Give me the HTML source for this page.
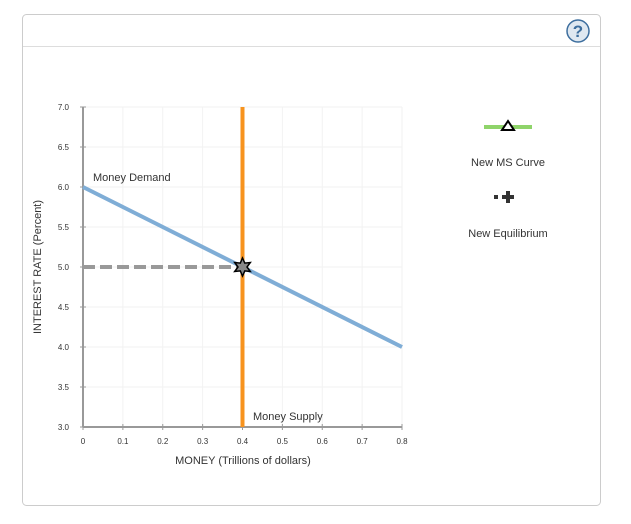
<!DOCTYPE html>
<html><head><meta charset="utf-8"><style>
body{margin:0;background:#fff;font-family:"Liberation Sans",sans-serif;}
svg text{font-family:"Liberation Sans",sans-serif;}
</style></head><body>
<svg width="631" height="519" xmlns="http://www.w3.org/2000/svg">
<rect x="22.5" y="14.5" width="578" height="491" rx="4" fill="#fff" stroke="#ccc"/>
<line x1="23" y1="46.5" x2="600" y2="46.5" stroke="#ddd"/>
<g>
<circle cx="578" cy="31" r="11" fill="#dfe8f1" stroke="#3d6e9e" stroke-width="1.5"/>
<text x="578" y="37" text-anchor="middle" font-size="17" font-weight="bold" fill="#3d6e9e">?</text>
</g>
<g id="grid"></g>
<g id="axes"></g>
<g id="series"></g>
<text x="243" y="464" text-anchor="middle" font-size="11" fill="#333">MONEY (Trillions of dollars)</text>
<text transform="translate(41,267) rotate(-90)" text-anchor="middle" font-size="11" fill="#333">INTEREST RATE (Percent)</text>
<g>
<line x1="484" y1="127" x2="532" y2="127" stroke="#8fd46a" stroke-width="4"/>
<polygon points="508,121 502,130 514,130" fill="#fff" stroke="#000" stroke-width="2"/>
<text x="508" y="166" text-anchor="middle" font-size="11" fill="#333">New MS Curve</text>
</g>
<g>
<rect x="494" y="195" width="4" height="4" fill="#333"/>
<path d="M502 195h4v-4h4v4h4v4h-4v4h-4v-4h-4z" fill="#333"/>
<text x="508" y="237" text-anchor="middle" font-size="11" fill="#333">New Equilibrium</text>
</g>
</svg>
<script>
const xTicks=[0,0.1,0.2,0.3,0.4,0.5,0.6,0.7,0.8];
const xTickLabels=["0","0.1","0.2","0.3","0.4","0.5","0.6","0.7","0.8"];
const yTicks=[3.0,3.5,4.0,4.5,5.0,5.5,6.0,6.5,7.0];
const yTickLabels=["3.0","3.5","4.0","4.5","5.0","5.5","6.0","6.5","7.0"];
const demandX=[0,0.8];
const demandY=[6.0,4.0];
const supplyX=[0.4,0.4];
const supplyY=[3.0,7.0];
const eqX=[0.4];
const eqY=[5.0];
const X=v=>83+v/0.8*319;
const Y=v=>427-(v-3)/4*320;
const NS="http://www.w3.org/2000/svg";
function mk(tag,attrs,parent){const e=document.createElementNS(NS,tag);for(const k in attrs)e.setAttribute(k,attrs[k]);document.getElementById(parent).appendChild(e);return e;}
xTicks.forEach((t,i)=>{
 const g=mk('line',{x1:X(t),x2:X(t),y1:Y(7),y2:Y(3),stroke:'#f2f2f2'},'grid');
 
 
 const tk=mk('line',{x1:X(t),x2:X(t),y1:Y(3)-3,y2:Y(3)+3,stroke:'#999'},'axes');
 
 
 const l=mk('text',{x:X(t),y:Y(3)+17,'text-anchor':'middle','font-size':'8',fill:'#333'},'axes');l.textContent=xTickLabels[i];
 
 
});
yTicks.forEach((t,i)=>{
 const g=mk('line',{x1:X(0),x2:X(0.8),y1:Y(t),y2:Y(t),stroke:'#f2f2f2'},'grid');
 
 
 const tk=mk('line',{x1:X(0)-3,x2:X(0)+3,y1:Y(t),y2:Y(t),stroke:'#999'},'axes');
 
 
 const l=mk('text',{x:X(0)-14,y:Y(t)+3,'text-anchor':'end','font-size':'8',fill:'#333'},'axes');l.textContent=yTickLabels[i];
 
 
});
const ax1=mk('line',{x1:X(0),x2:X(0),y1:Y(7),y2:Y(3),stroke:'#999','stroke-width':2},'axes');


const ax2=mk('line',{x1:X(0),x2:X(0.8),y1:Y(3),y2:Y(3),stroke:'#999','stroke-width':2},'axes');


const dl=mk('line',{x1:X(0),x2:X(eqX[0]),y1:Y(eqY[0]),y2:Y(eqY[0]),stroke:'#999','stroke-width':4,'stroke-dasharray':'12,5'},'series');


const ms=mk('line',{x1:X(supplyX[0]),x2:X(supplyX[1]),y1:Y(supplyY[0]),y2:Y(supplyY[1]),stroke:'#f7931e','stroke-width':4},'series');


const md=mk('line',{x1:X(demandX[0]),x2:X(demandX[1]),y1:Y(demandY[0]),y2:Y(demandY[1]),stroke:'#7fadd6','stroke-width':4},'series');


const cx=X(eqX[0]),cy=Y(eqY[0]);let pts=[];
for(let k=0;k<12;k++){const r=k%2?4.5:9,a=-Math.PI/2+k*Math.PI/6;pts.push((cx+r*Math.cos(a)).toFixed(1)+','+(cy+r*Math.sin(a)).toFixed(1));}
const st=mk('polygon',{points:pts.join(' '),fill:'#888',stroke:'#000','stroke-width':1.5},'series');


const t1=mk('text',{x:93,y:181,'font-size':'11',fill:'#333'},'series');t1.textContent='Money Demand';


const t2=mk('text',{x:253,y:420,'font-size':'11',fill:'#333'},'series');t2.textContent='Money Supply';


</script>
</body></html>
